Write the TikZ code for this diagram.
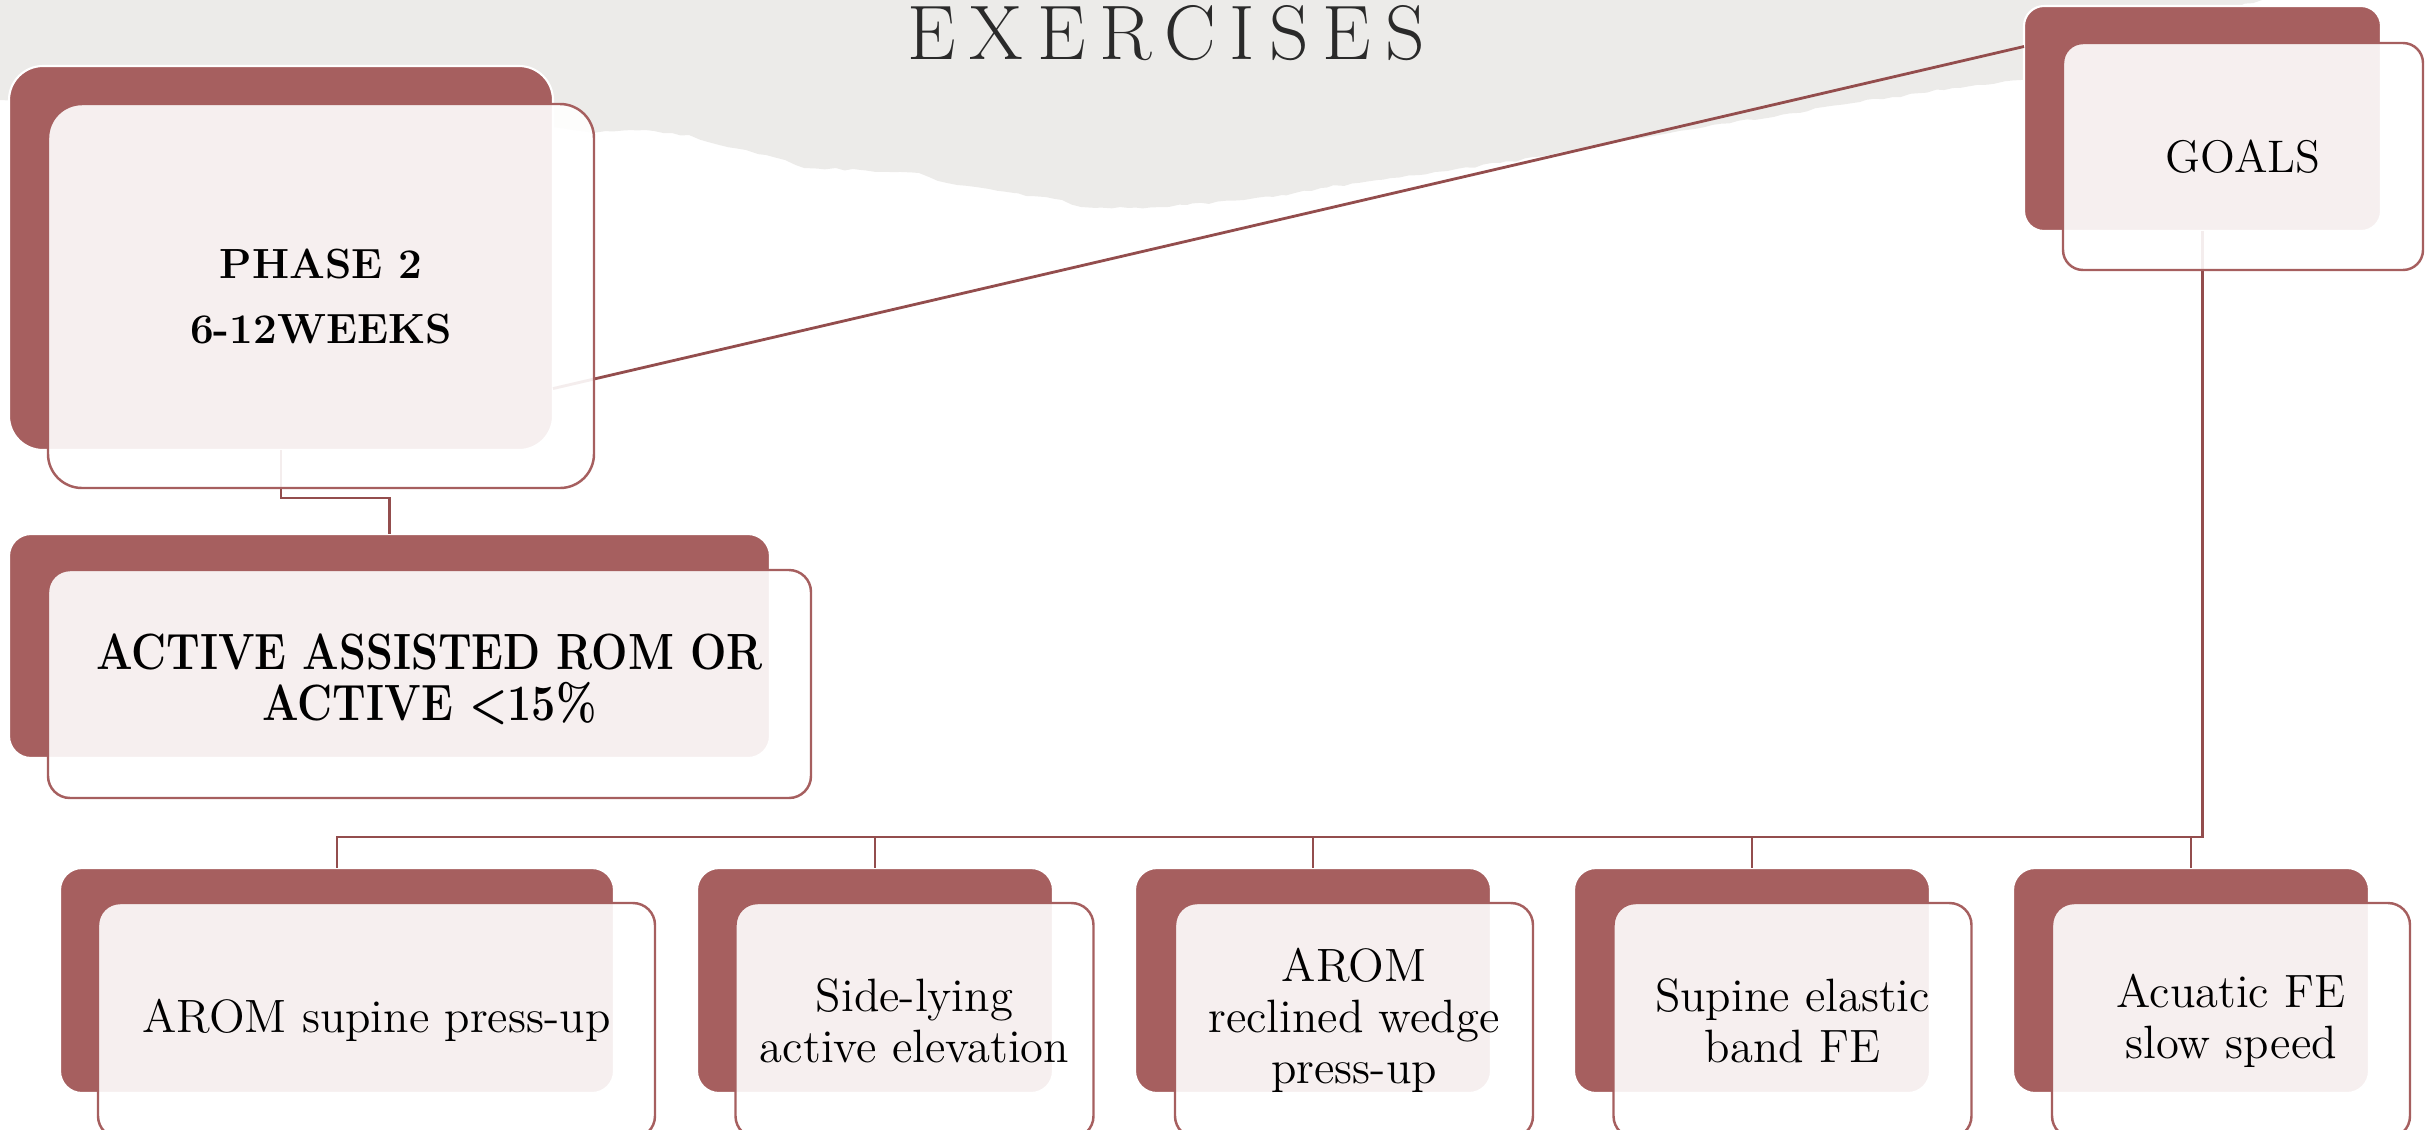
\documentclass[tikz,border=0pt]{standalone}
\usepackage{fontspec}
\setmainfont{Latin Modern Roman}
\usetikzlibrary{calc,decorations.pathmorphing}
\definecolor{boxred}{HTML}{A65F5F}
\definecolor{linkred}{HTML}{934D4D}
\definecolor{paper}{HTML}{ECEBE9}
\definecolor{titlegrey}{HTML}{2A2A2A}
\begin{document}
\begin{tikzpicture}[x=0.1mm,y=-0.1mm,
  backbox/.style={fill=boxred, draw=white, line width=0.6pt,
    inner sep=0pt, outer sep=0pt},
  frontbox/.style={fill=white, fill opacity=0.9, text opacity=1,
    draw=boxred, draw opacity=1, line width=0.7pt,
    inner sep=0pt, outer sep=0pt, align=center, text=black},
  link/.style={draw=linkred, line width=0.8pt},
  itemfont/.style={font=\fontsize{13.3}{14.5}\selectfont},
  smallback/.style={backbox, minimum width=35.6mm, minimum height=22.5mm, rounded corners=2.2mm},
  smallfront/.style={frontbox, itemfont, minimum width=35.8mm, minimum height=23.5mm, rounded corners=2.2mm},
]
\clip (0,0) rectangle (2430,1130);

% torn paper band behind the title
\fill[paper, decorate, decoration={random steps, segment length=2.5pt, amplitude=0.35pt}]
  (-20,-20) -- (2262,-20) -- (2262,0) -- (2240,6) -- (2100,30) -- (2030,78)
  -- (1953,88) -- (1860,102) -- (1705,127) -- (1550,155) -- (1500,163)
  -- (1435,172) -- (1378,180) -- (1321,188) -- (1282,195) -- (1244,200)
  -- (1187,205) -- (1129,208) -- (1081,207) -- (1062,200) -- (1014,193)
  -- (976,187) -- (947,183) -- (919,173) -- (861,170) -- (804,168)
  -- (785,160) -- (766,155) -- (746,150) -- (708,142) -- (689,135)
  -- (632,130) -- (593,133) -- (560,128) -- (300,110) -- (0,100)
  -- (-20,100) -- cycle;

\node[anchor=base, text=titlegrey,
  font=\fontsize{22}{26}\selectfont\addfontfeature{LetterSpace=18}]
  (title) at (1166,59) {EXERCISES};

% back cards
\node[backbox, minimum width=54.4mm, minimum height=38.4mm, rounded corners=3.4mm] (phb) at (281,258) {};
\node[backbox, minimum width=35.7mm, minimum height=22.5mm, rounded corners=2.0mm] (glb) at (2202.5,118.5) {};
\node[backbox, minimum width=76.1mm, minimum height=22.4mm, rounded corners=2.2mm] (acb) at (389.5,646) {};
\node[smallback, minimum width=55.4mm] (b1) at (337,980.5) {};
\node[smallback] (b2) at (875,980.5) {};
\node[smallback] (b3) at (1313,980.5) {};
\node[smallback] (b4) at (1752,980.5) {};
\node[smallback] (b5) at (2191,980.5) {};

% connectors
\coordinate (pmid) at (0,498);
\coordinate (bus) at (0,837);
\draw[link] ($(phb.north east)!0.84!(phb.south east)$) -- ($(glb.north west)!0.18!(glb.south west)$);
\draw[link] (phb.south) -- (phb.south |- pmid) -| (acb.north);
\foreach \k in {1,...,5}
  \draw[link] (glb.south) -- (glb.south |- bus) -| (b\k.north);

% front cards with their texts
\node[frontbox, minimum width=54.6mm, minimum height=38.4mm, rounded corners=3.4mm,
  font=\fontsize{12}{18.5}\selectfont\bfseries] (ph) at (321,296) {PHASE 2\\6-12WEEKS};
\node[frontbox, minimum width=36mm, minimum height=22.7mm, rounded corners=2.0mm,
  font=\fontsize{13}{15}\selectfont] (gl) at (2243,156.5) {GOALS};
\node[frontbox, minimum width=76.3mm, minimum height=22.8mm, rounded corners=2.2mm,
  font=\fontsize{14.5}{12.9}\selectfont\bfseries] (ac) at (429.5,684)
  {\raisebox{-1.7pt}{\scalebox{0.845}[1]{\begin{tabular}{@{}c@{}}ACTIVE ASSISTED ROM OR\\ACTIVE <15\%\end{tabular}}}};
\node[smallfront, minimum width=55.7mm] (f1) at (376.5,1020.5) {AROM supine press-up};
\node[smallfront] (f2) at (914.5,1020.5) {Side-lying\\active elevation};
\node[smallfront] (f3) at (1354,1020.5) {AROM\\reclined wedge\\press-up};
\node[smallfront] (f4) at (1792.5,1020.5) {Supine elastic\\band FE};
\node[smallfront] (f5) at (2231,1020.5) {Acuatic FE\\slow speed};
\end{tikzpicture}
\end{document}
